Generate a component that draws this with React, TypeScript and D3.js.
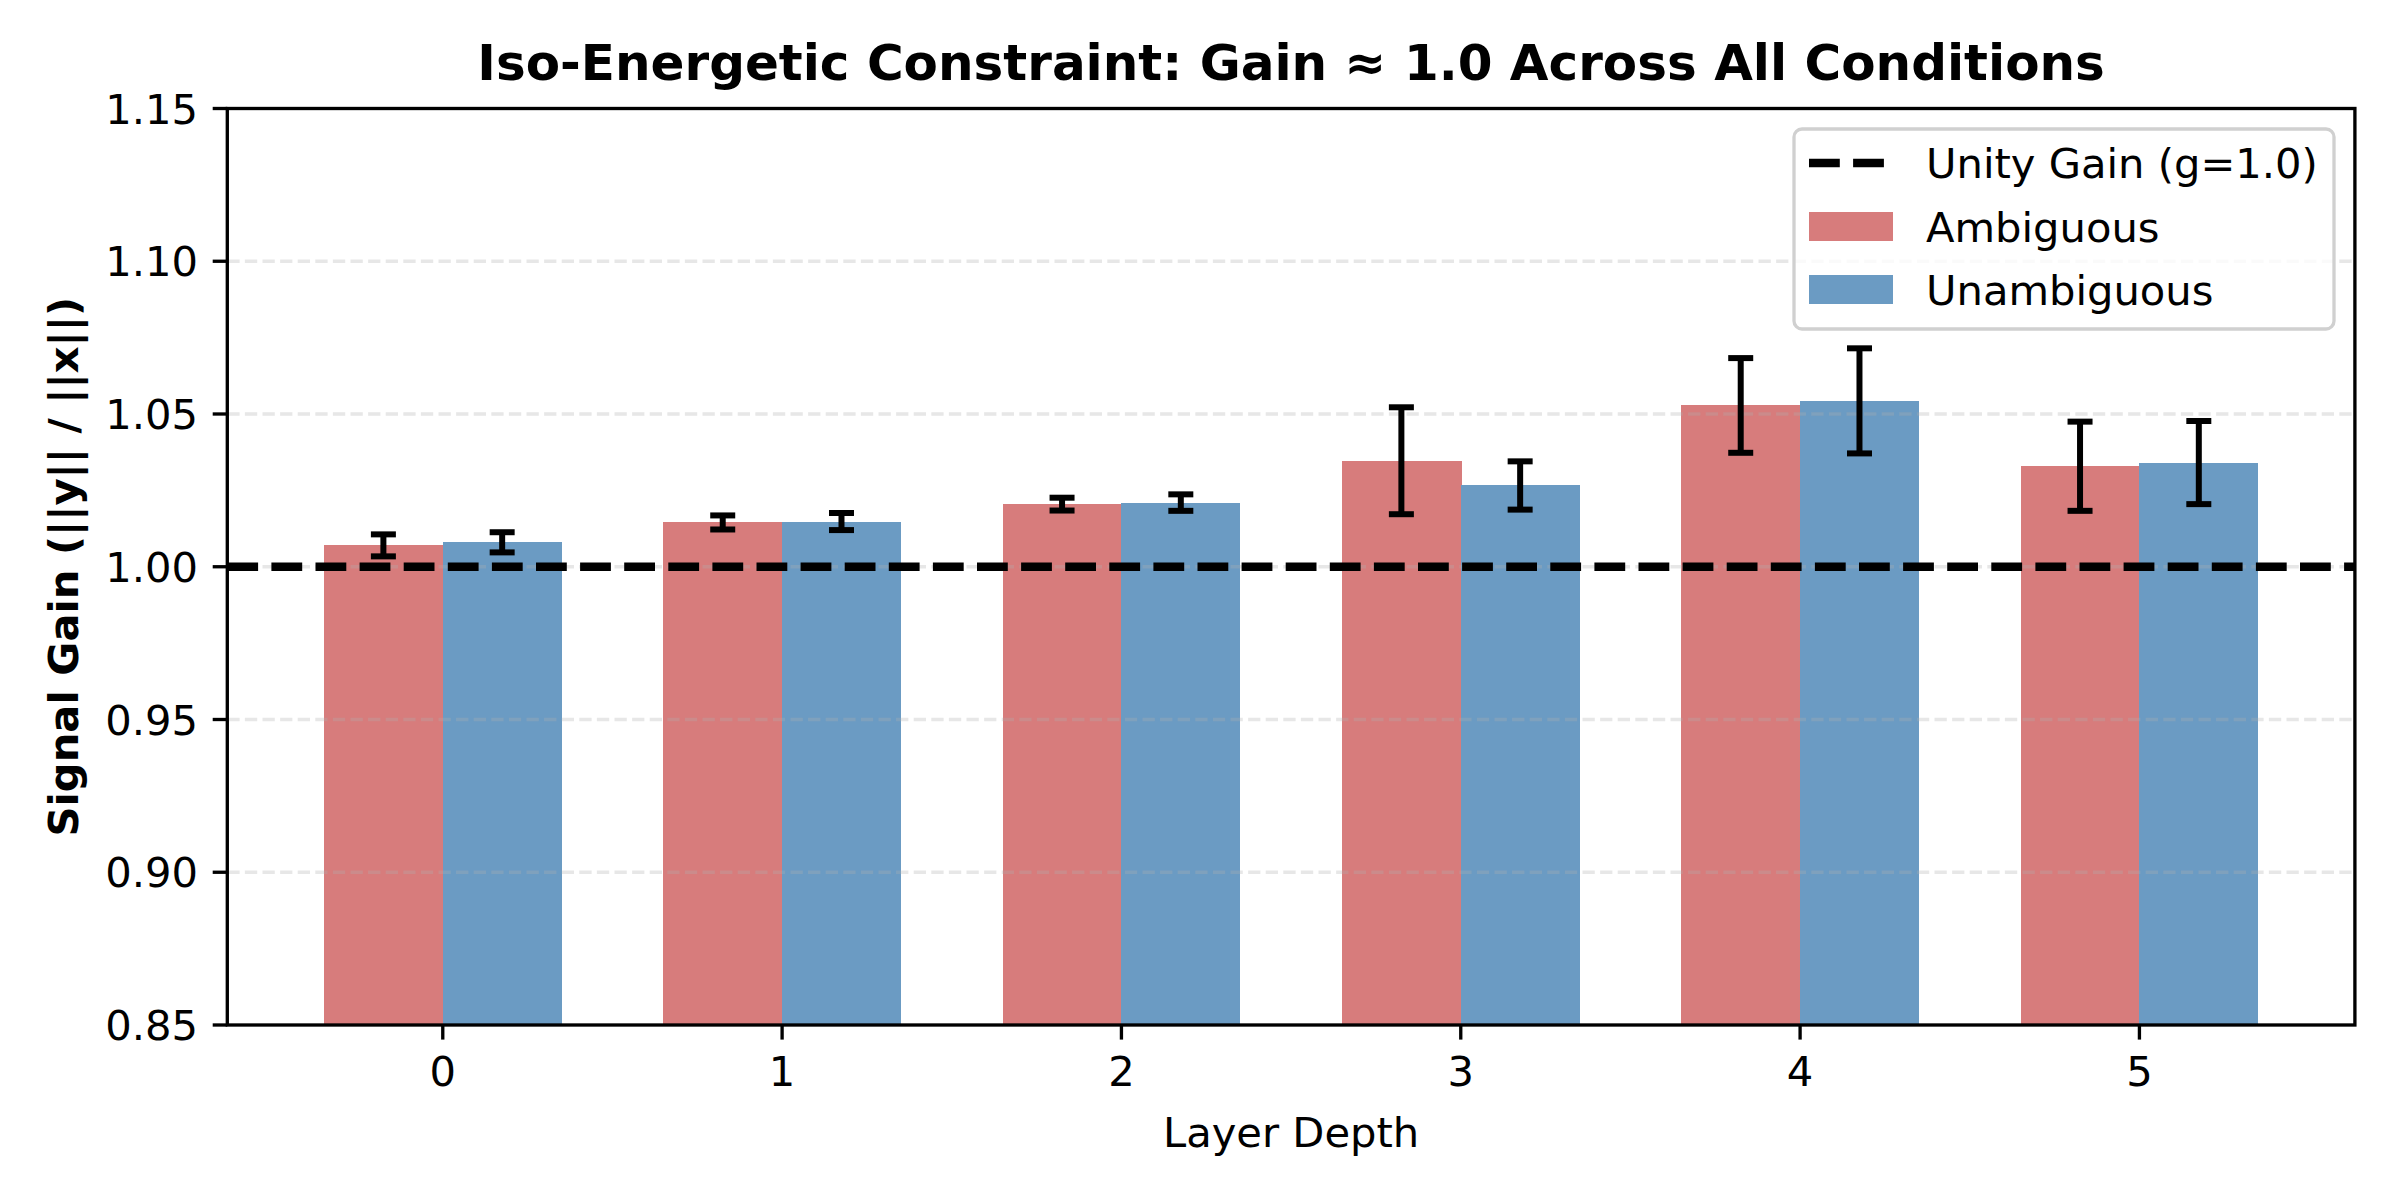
import * as d3 from "d3";

const layers = [0, 1, 2, 3, 4, 5];
const ambiguousMean = [1.007, 1.0145, 1.0205, 1.0347, 1.0528, 1.0329];
const ambiguousErr = [0.0036, 0.0023, 0.0021, 0.0175, 0.0155, 0.0146];
const unambiguousMean = [1.008, 1.0148, 1.021, 1.0266, 1.0543, 1.0341];
const unambiguousErr = [0.0033, 0.0028, 0.0027, 0.0079, 0.0172, 0.0136];
const yTicks = [0.85, 0.9, 0.95, 1.0, 1.05, 1.1, 1.15];
const gridTicks = [0.9, 0.95, 1.0, 1.05, 1.1];

const W = 2400;
const H = 1200;
const left = 227.3;
const right = 2354.9;
const top = 108.5;
const bottom = 1025;
const barW = 0.35;
const FS = 41.67;
const font = "DejaVu Sans, Verdana, sans-serif";

const series = [
  { name: "Ambiguous", mean: ambiguousMean, err: ambiguousErr, color: "#d77c7c", offset: -barW / 2 },
  { name: "Unambiguous", mean: unambiguousMean, err: unambiguousErr, color: "#6b9bc3", offset: barW / 2 },
];

export default function App() {
  const x = d3.scaleLinear().domain([-0.635, 5.635]).range([left, right]);
  const y = d3.scaleLinear().domain([0.85, 1.15]).range([bottom, top]);
  const cap = 12.5;
  const tickLen = 14.6;

  return (
    <svg
      width={W}
      height={H}
      style={{ position: "absolute", left: 0, top: 0, background: "#fff" }}
      fontFamily={font}
    >
      <rect x={0} y={0} width={W} height={H} fill="#fff" />

      {/* bars */}
      {series.map(s =>
        layers.map((l, i) => (
          <rect
            key={s.name + l}
            x={x(l + s.offset - barW / 2)}
            y={y(s.mean[i])}
            width={x(l + barW) - x(l) + (s.offset < 0 ? 1 : 0)}
            height={y(0.85) - y(s.mean[i])}
            fill={s.color}
            shapeRendering="crispEdges"
          />
        ))
      )}

      {/* grid, drawn above the bars like matplotlib */}
      {gridTicks.map(t => (
        <line
          key={"g" + t}
          x1={left}
          x2={right}
          y1={y(t)}
          y2={y(t)}
          stroke="#b0b0b0"
          strokeOpacity={0.3}
          strokeWidth={3.3}
          strokeDasharray="12.3 5.3"
        />
      ))}

      {/* error bars */}
      {series.map(s =>
        layers.map((l, i) => {
          const cx = x(l + s.offset);
          const y1 = y(s.mean[i] + s.err[i]);
          const y2 = y(s.mean[i] - s.err[i]);
          return (
            <g key={"e" + s.name + l} stroke="#000" strokeWidth={6}>
              <line x1={cx} x2={cx} y1={y1} y2={y2} />
              <line x1={cx - cap} x2={cx + cap} y1={y1} y2={y1} />
              <line x1={cx - cap} x2={cx + cap} y1={y2} y2={y2} />
            </g>
          );
        })
      )}

      {/* unity line */}
      <line
        x1={left}
        x2={right}
        y1={y(1.0)}
        y2={y(1.0)}
        stroke="#000"
        strokeWidth={8.33}
        strokeDasharray="30.8 13.3"
      />

      {/* frame */}
      <rect
        x={left}
        y={top}
        width={right - left}
        height={bottom - top}
        fill="none"
        stroke="#000"
        strokeWidth={3.33}
      />

      {/* y ticks */}
      {yTicks.map(t => (
        <g key={"y" + t}>
          <line x1={left - tickLen} x2={left} y1={y(t)} y2={y(t)} stroke="#000" strokeWidth={3.33} />
          <text
            x={left - tickLen - 14.6}
            y={y(t)}
            dy="0.36em"
            textAnchor="end"
            fontSize={FS}
            fill="#000"
          >
            {d3.format(".2f")(t)}
          </text>
        </g>
      ))}

      {/* x ticks */}
      {layers.map(l => (
        <g key={"x" + l}>
          <line x1={x(l)} x2={x(l)} y1={bottom} y2={bottom + tickLen} stroke="#000" strokeWidth={3.33} />
          <text x={x(l)} y={bottom + tickLen + 14.6} dy="0.76em" textAnchor="middle" fontSize={FS} fill="#000">
            {l}
          </text>
        </g>
      ))}

      {/* axis labels */}
      <text x={(left + right) / 2} y={1147} textAnchor="middle" fontSize={FS} fill="#000">
        Layer Depth
      </text>
      <text
        transform={`translate(78, ${(top + bottom) / 2}) rotate(-90)`}
        textAnchor="middle"
        fontSize={FS}
        fontWeight="bold"
        fill="#000"
      >
        Signal Gain (||y|| / ||x||)
      </text>

      {/* title */}
      <text x={(left + right) / 2} y={80} textAnchor="middle" fontSize={50} fontWeight="bold" fill="#000">
        Iso-Energetic Constraint: Gain ≈ 1.0 Across All Conditions
      </text>

      {/* legend */}
      <g>
        <rect
          x={1794}
          y={129}
          width={540}
          height={200}
          rx={8}
          fill="#fff"
          fillOpacity={0.8}
          stroke="#d0d0d0"
          strokeWidth={3.3}
        />
        <line x1={1809} x2={1892} y1={163} y2={163} stroke="#000" strokeWidth={8.33} strokeDasharray="30.8 13.3" />
        <text x={1926} y={163} dy="0.36em" fontSize={FS} fill="#000">
          Unity Gain (g=1.0)
        </text>
        {series.map((s, i) => (
          <g key={"l" + s.name}>
            <rect x={1809} y={212 + i * 63} width={84} height={29} fill={s.color} />
            <text x={1926} y={226.5 + i * 63} dy="0.36em" fontSize={FS} fill="#000">
              {s.name}
            </text>
          </g>
        ))}
      </g>
    </svg>
  );
}
